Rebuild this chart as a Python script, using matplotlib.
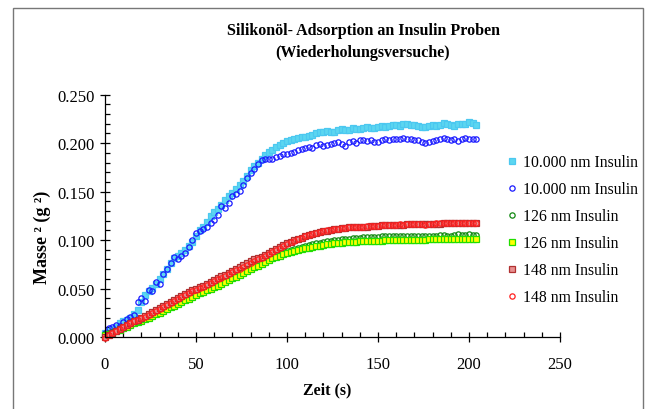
import matplotlib
matplotlib.use("Agg")
import matplotlib.pyplot as plt
from matplotlib.patches import Rectangle
from matplotlib.ticker import MultipleLocator, FormatStrFormatter

# =========================================================
# DATA  (Zeit in s, Masse^2 in g^2)
# =========================================================

zeit = list(range(0, 205, 2))

cyan_10000 = [
    0.004, 0.006, 0.008, 0.010, 0.014, 0.017, 0.018, 0.020, 0.024, 0.028,
    0.036, 0.043, 0.047, 0.051, 0.055, 0.060, 0.065, 0.070, 0.076, 0.081,
    0.084, 0.087, 0.090, 0.094, 0.098, 0.104, 0.110, 0.114, 0.119, 0.125,
    0.129, 0.132, 0.136, 0.141, 0.145, 0.149, 0.153, 0.157, 0.161, 0.166,
    0.172, 0.176, 0.180, 0.184, 0.188, 0.191, 0.193, 0.196, 0.198, 0.200,
    0.202, 0.203, 0.204, 0.205, 0.206, 0.206, 0.207, 0.208, 0.210, 0.211,
    0.212, 0.213, 0.212, 0.211, 0.214, 0.215, 0.214, 0.214, 0.216, 0.215,
    0.215, 0.216, 0.217, 0.216, 0.216, 0.217, 0.218, 0.217, 0.218, 0.219,
    0.219, 0.218, 0.220, 0.220, 0.219, 0.219, 0.218, 0.217, 0.217, 0.218,
    0.219, 0.218, 0.219, 0.221, 0.220, 0.219, 0.218, 0.220, 0.220, 0.220,
    0.222, 0.221, 0.219,
]

blau_10000 = [
    0.004, 0.009, 0.010, 0.012, 0.011, 0.015, 0.019, 0.021, 0.023, 0.036,
    0.040, 0.037, 0.048, 0.047, 0.057, 0.055, 0.065, 0.070, 0.076, 0.083,
    0.080, 0.084, 0.087, 0.093, 0.100, 0.107, 0.109, 0.111, 0.113, 0.118,
    0.121, 0.126, 0.135, 0.133, 0.138, 0.145, 0.148, 0.151, 0.157, 0.164,
    0.169, 0.173, 0.178, 0.183, 0.184, 0.184, 0.184, 0.186, 0.187, 0.189,
    0.189, 0.190, 0.191, 0.193, 0.194, 0.195, 0.196, 0.195, 0.198, 0.199,
    0.197, 0.198, 0.199, 0.200, 0.201, 0.199, 0.197, 0.201, 0.202, 0.200,
    0.203, 0.203, 0.202, 0.203, 0.201, 0.201, 0.203, 0.204, 0.203, 0.204,
    0.204, 0.204, 0.205, 0.204, 0.204, 0.203, 0.203, 0.201, 0.200, 0.201,
    0.202, 0.203, 0.204, 0.205, 0.204, 0.203, 0.204, 0.202, 0.204, 0.205,
    0.204, 0.204, 0.204,
]

gruen_126 = [
    0.003, 0.004, 0.005, 0.006, 0.008, 0.009, 0.011, 0.013, 0.014, 0.016,
    0.018, 0.019, 0.021, 0.023, 0.025, 0.026, 0.028, 0.030, 0.032, 0.033,
    0.035, 0.037, 0.039, 0.040, 0.042, 0.044, 0.046, 0.047, 0.049, 0.051,
    0.053, 0.055, 0.057, 0.058, 0.060, 0.062, 0.064, 0.065, 0.067, 0.069,
    0.071, 0.073, 0.075, 0.077, 0.079, 0.081, 0.083, 0.085, 0.086, 0.088,
    0.089, 0.090, 0.091, 0.092, 0.093, 0.094, 0.095, 0.096, 0.097, 0.097,
    0.098, 0.099, 0.099, 0.100, 0.100, 0.101, 0.101, 0.101, 0.102, 0.102,
    0.102, 0.103, 0.103, 0.103, 0.103, 0.103, 0.104, 0.104, 0.104, 0.104,
    0.104, 0.104, 0.104, 0.104, 0.104, 0.104, 0.104, 0.104, 0.104, 0.104,
    0.104, 0.104, 0.105, 0.105, 0.104, 0.104, 0.105, 0.106, 0.105, 0.105,
    0.106, 0.105, 0.105,
]

gelb_126 = [
    0.002, 0.003, 0.004, 0.006, 0.007, 0.009, 0.010, 0.012, 0.014, 0.015,
    0.017, 0.019, 0.020, 0.022, 0.024, 0.025, 0.027, 0.029, 0.031, 0.032,
    0.034, 0.036, 0.038, 0.039, 0.041, 0.043, 0.045, 0.046, 0.048, 0.050,
    0.052, 0.053, 0.055, 0.057, 0.059, 0.061, 0.062, 0.064, 0.066, 0.068,
    0.070, 0.072, 0.073, 0.075, 0.077, 0.079, 0.081, 0.083, 0.084, 0.086,
    0.087, 0.088, 0.089, 0.090, 0.091, 0.092, 0.092, 0.093, 0.094, 0.094,
    0.095, 0.096, 0.096, 0.097, 0.097, 0.097, 0.098, 0.098, 0.098, 0.098,
    0.099, 0.099, 0.099, 0.099, 0.099, 0.099, 0.099, 0.100, 0.100, 0.100,
    0.100, 0.100, 0.100, 0.100, 0.100, 0.100, 0.100, 0.100, 0.100, 0.101,
    0.101, 0.101, 0.101, 0.101, 0.101, 0.101, 0.101, 0.101, 0.101, 0.101,
    0.101, 0.101, 0.101,
]

rot_q_148 = [
    0.000, 0.002, 0.004, 0.006, 0.008, 0.010, 0.012, 0.014, 0.016, 0.018,
    0.020, 0.022, 0.024, 0.026, 0.028, 0.030, 0.032, 0.034, 0.036, 0.038,
    0.040, 0.042, 0.044, 0.046, 0.048, 0.050, 0.052, 0.053, 0.055, 0.057,
    0.059, 0.061, 0.063, 0.064, 0.066, 0.068, 0.070, 0.072, 0.074, 0.076,
    0.078, 0.080, 0.082, 0.083, 0.085, 0.087, 0.089, 0.091, 0.093, 0.095,
    0.097, 0.098, 0.100, 0.101, 0.102, 0.104, 0.105, 0.106, 0.107, 0.108,
    0.109, 0.109, 0.110, 0.111, 0.111, 0.112, 0.112, 0.113, 0.113, 0.113,
    0.114, 0.114, 0.114, 0.115, 0.115, 0.115, 0.116, 0.116, 0.116, 0.116,
    0.116, 0.116, 0.116, 0.117, 0.117, 0.117, 0.117, 0.117, 0.117, 0.117,
    0.117, 0.117, 0.117, 0.118, 0.118, 0.118, 0.118, 0.118, 0.118, 0.118,
    0.118, 0.118, 0.118,
]

rot_k_148 = [
    -0.001, 0.002, 0.004, 0.006, 0.008, 0.010, 0.012, 0.014, 0.016, 0.018,
    0.020, 0.021, 0.023, 0.025, 0.027, 0.029, 0.031, 0.033, 0.035, 0.037,
    0.039, 0.041, 0.043, 0.045, 0.047, 0.049, 0.051, 0.052, 0.054, 0.056,
    0.058, 0.060, 0.061, 0.063, 0.065, 0.067, 0.069, 0.070, 0.072, 0.074,
    0.076, 0.078, 0.080, 0.082, 0.084, 0.086, 0.088, 0.090, 0.092, 0.094,
    0.096, 0.098, 0.099, 0.101, 0.102, 0.104, 0.105, 0.106, 0.107, 0.108,
    0.109, 0.110, 0.110, 0.111, 0.111, 0.112, 0.112, 0.113, 0.113, 0.114,
    0.114, 0.114, 0.115, 0.115, 0.115, 0.115, 0.116, 0.116, 0.116, 0.116,
    0.116, 0.117, 0.116, 0.117, 0.117, 0.117, 0.117, 0.117, 0.116, 0.117,
    0.117, 0.118, 0.118, 0.118, 0.118, 0.118, 0.118, 0.118, 0.118, 0.118,
    0.118, 0.118, 0.118,
]

labels = ["10.000 nm Insulin", "10.000 nm Insulin", "126 nm Insulin",
          "126 nm Insulin", "148 nm Insulin", "148 nm Insulin"]

# =========================================================
# PLOT
# =========================================================

plt.rcParams["font.family"] = ["Liberation Serif", "DejaVu Serif"]

fig = plt.figure(figsize=(6.46, 4.10), dpi=100)
ax = fig.add_axes([0.1625, 0.1756, 0.7044, 0.5910])

# marker styles: (data, marker, face, edge, size)
styles = [
    (cyan_10000, "s", "#5CD6F0", "#4CC8F0", 4.0),
    (blau_10000, "o", "none", "#1a1aff", 3.8),
    (gruen_126, "o", "none", "#118811", 3.8),
    (gelb_126, "s", "#FFFF00", "#22DD00", 4.0),
    (rot_q_148, "s", "#E89090", "#B03030", 4.0),
    (rot_k_148, "o", "none", "#FF2020", 3.8),
]

for (vals, mk, fc, ec, ms), lab in zip(styles, labels):
    ax.plot(zeit, vals, linestyle="none", marker=mk, markersize=ms,
            markerfacecolor=fc, markeredgecolor=ec, markeredgewidth=0.9,
            label=lab, clip_on=False)

ax.set_xlim(0, 250)
ax.set_ylim(0, 0.25)

ax.xaxis.set_major_locator(MultipleLocator(50))
ax.xaxis.set_minor_locator(MultipleLocator(10))
ax.yaxis.set_major_locator(MultipleLocator(0.05))
ax.yaxis.set_minor_locator(MultipleLocator(0.01))
ax.yaxis.set_major_formatter(FormatStrFormatter("%.3f"))

ax.spines["top"].set_visible(False)
ax.spines["right"].set_visible(False)
for s in ("left", "bottom"):
    ax.spines[s].set_linewidth(0.9)

ax.tick_params(axis="both", which="major", direction="inout", length=7,
               width=0.9, labelsize=12)
ax.tick_params(axis="y", which="major", pad=4)
ax.tick_params(axis="x", which="major", pad=10)
ax.tick_params(axis="both", which="minor", direction="in", length=3.5,
               width=0.9)

ax.set_xlabel("Zeit (s)", fontsize=11.5, fontweight="bold")
ax.xaxis.set_label_coords(0.488, -0.185)
ax.set_ylabel("Masse ² (g ²)", fontsize=13, fontweight="bold")
ax.yaxis.set_label_coords(-0.119, 0.417)

fig.text(0.562, 0.943, "Silikonöl- Adsorption an Insulin Proben\n(Wiederholungsversuche)",
         ha="center", va="top", fontsize=11.5, fontweight="bold", linespacing=1.5)

fig.legend(loc="upper left", bbox_to_anchor=(0.775, 0.637), frameon=False,
           fontsize=11.3, handlelength=0.6, handletextpad=0.4,
           labelspacing=0.7, borderaxespad=0)

# grey frame around the chart area
fig.patches.append(Rectangle((13 / 646, -0.02), 630 / 646, 1.02 - 9 / 410,
                             transform=fig.transFigure, fill=False,
                             edgecolor="#777777", linewidth=1.0))

fig.savefig("out.png", dpi=100)
